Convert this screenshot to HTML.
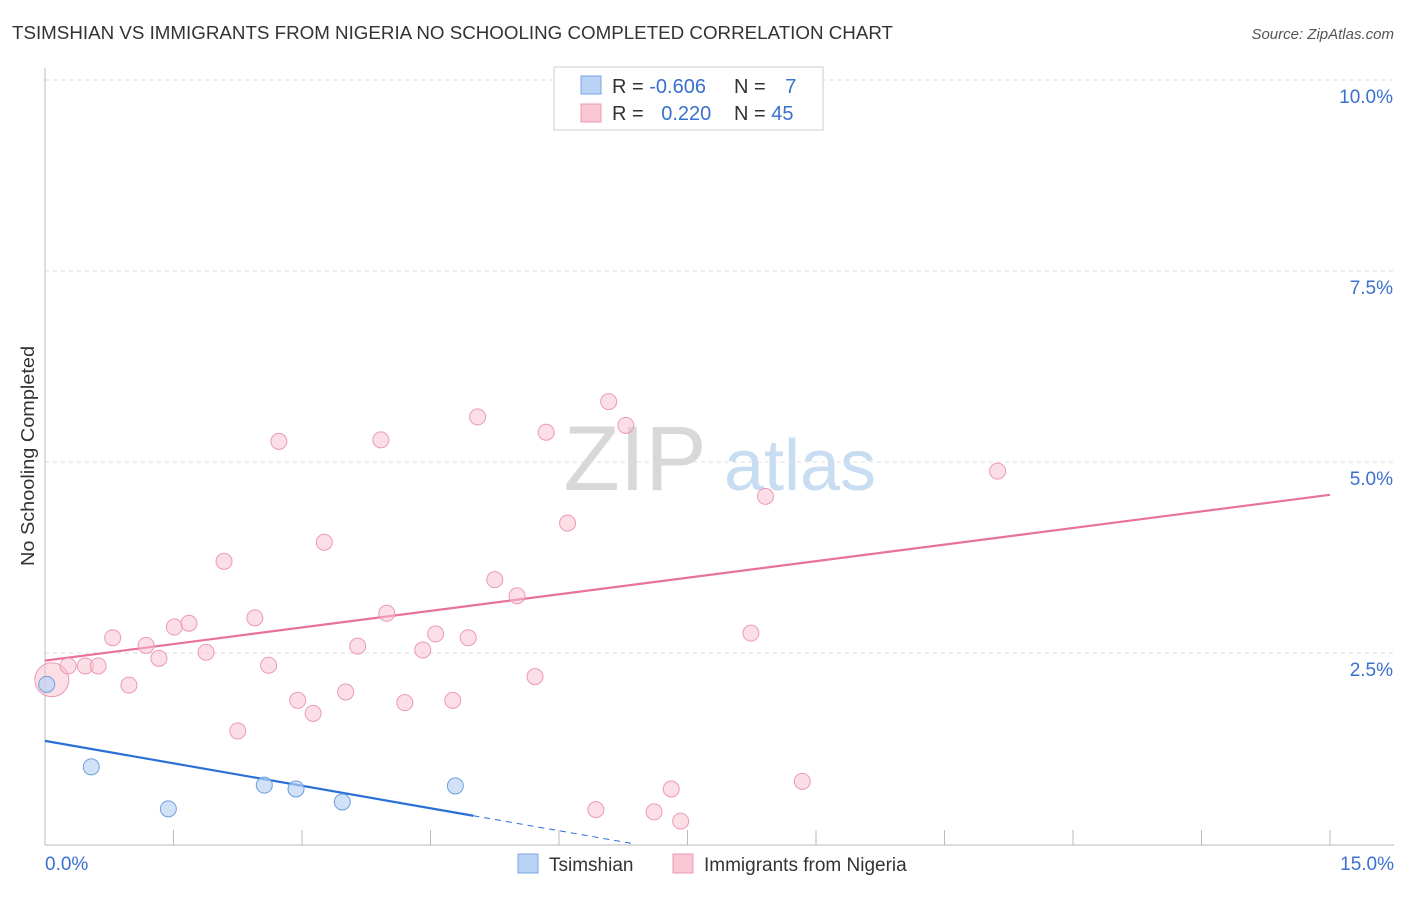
<!DOCTYPE html>
<html><head><meta charset="utf-8"><style>
body{margin:0;background:#fff;font-family:"Liberation Sans",sans-serif;}
svg text{font-family:"Liberation Sans",sans-serif;}
</style></head><body>
<svg id="chart" width="1406" height="892" xmlns="http://www.w3.org/2000/svg">
<text x="12" y="39" font-size="18" fill="#333" textLength="881" lengthAdjust="spacingAndGlyphs">TSIMSHIAN VS IMMIGRANTS FROM NIGERIA NO SCHOOLING COMPLETED CORRELATION CHART</text>
<text x="1394" y="39" font-size="15" fill="#555" font-style="italic" text-anchor="end">Source: ZipAtlas.com</text>
<text transform="translate(34,456) rotate(-90)" font-size="18" fill="#333" text-anchor="middle" textLength="220" lengthAdjust="spacingAndGlyphs">No Schooling Completed</text>
<g>
<text x="635" y="490" font-size="92" fill="#d8d8d8" font-family="Liberation Serif" text-anchor="middle">ZIP</text>
<text x="800" y="490" font-size="72" fill="#c8dcf2" text-anchor="middle">atlas</text>
</g>
<g id="grid"></g><g id="axes"></g><g id="trends"></g><g id="points"></g>
<g>
<rect x="554" y="67" width="269" height="63" fill="#fff" stroke="#ccc"/>
<rect x="581" y="76" width="20" height="18" fill="#b8d3f5" stroke="#7aa6e0"/>
<rect x="581" y="104" width="20" height="18" fill="#f9c6d4" stroke="#ee9ab2"/>
<text x="612" y="93" font-size="20" fill="#333">R = <tspan fill="#3a70d0">-0.606</tspan></text>
<text x="734" y="93" font-size="20" fill="#333">N = <tspan fill="#3a70d0" dx="14">7</tspan></text>
<text x="612" y="120" font-size="20" fill="#333">R = <tspan fill="#3a70d0" dx="12">0.220</tspan></text>
<text x="734" y="120" font-size="20" fill="#333">N = <tspan fill="#3a70d0">45</tspan></text>
</g>
<g>
<rect x="518" y="854" width="20" height="19" fill="#b8d3f5" stroke="#7aa6e0"/>
<text x="549" y="871" font-size="19" fill="#333">Tsimshian</text>
<rect x="673" y="854" width="20" height="19" fill="#f9c6d4" stroke="#ee9ab2"/>
<text x="704" y="871" font-size="19" fill="#333">Immigrants from Nigeria</text>
</g>
</svg>
<script>
const xTicks=[0,15];
const yTicks=[2.5,5.0,7.5,10.0];
const nigeriaX=[0.08,0.27,0.47,0.62,0.79,0.98,1.18,1.33,1.51,1.68,1.88,2.09,2.25,2.45,2.61,2.73,2.95,3.13,3.26,3.51,3.65,3.92,3.99,4.20,4.41,4.56,4.76,4.94,5.05,5.25,5.51,5.72,5.85,6.10,6.43,6.58,6.78,7.11,7.31,7.42,7.86,8.24,8.41,8.84,11.12];
const nigeriaY=[2.15,2.33,2.33,2.33,2.70,2.08,2.60,2.43,2.84,2.89,2.51,3.70,1.48,2.96,2.34,5.27,1.88,1.71,3.95,1.99,2.59,5.29,3.02,1.85,2.54,2.75,1.88,2.70,5.59,3.46,3.25,2.19,5.39,4.20,0.45,5.79,5.48,0.42,0.72,0.30,9.74,2.76,4.55,0.82,4.88];
const tsimX=[0.02,0.54,1.44,2.56,2.93,3.47,4.79];
const tsimY=[2.09,1.01,0.46,0.77,0.72,0.55,0.76];
const nigeriaTrend=[2.40,0.1447];
const tsimTrend=[1.35,-0.196];
const X0=45,X1=1330,Y0=844,PY=76.4;
const sx=v=>X0+v/15*(X1-X0), sy=v=>Y0-v*PY;
const NS="http://www.w3.org/2000/svg";
function mk(p,t,a){const e=document.createElementNS(NS,t);for(const k in a)e.setAttribute(k,a[k]);p.appendChild(e);return e;}
const grid=document.getElementById('grid'),axes=document.getElementById('axes');
mk(grid,'line',{x1:X0,x2:1394,y1:sy(10),y2:sy(10),stroke:'#ddd','stroke-dasharray':'4,4'});
yTicks.forEach(t=>{
 const l=mk(grid,'line',{x1:X0,x2:1394,y1:sy(t),y2:sy(t),stroke:'#ddd','stroke-dasharray':'4,4'});
 
 
 const tx=mk(axes,'text',{x:1393,y:sy(t)+23,'font-size':19,fill:'#3a70d0','text-anchor':'end'});
 tx.textContent=t.toFixed(1)+'%';
 
 
});
mk(axes,'line',{x1:X0,x2:X0,y1:68,y2:845,stroke:'#bbb'});
mk(axes,'line',{x1:X0,x2:1394,y1:845,y2:845,stroke:'#bbb'});
for(let i=0;i<=10;i++){mk(axes,'line',{x1:sx(i*1.5),x2:sx(i*1.5),y1:830,y2:845,stroke:'#bbb'});}
xTicks.forEach((t,i)=>{
 const tx=mk(axes,'text',{x:i==0?45:1394,y:870,'font-size':19,fill:'#3a70d0','text-anchor':i==0?'start':'end'});
 tx.textContent=t.toFixed(1)+'%';
 
 
});
const tr=document.getElementById('trends');
const pl=mk(tr,'line',{x1:sx(0),y1:sy(nigeriaTrend[0]),x2:sx(15),y2:sy(nigeriaTrend[0]+15*nigeriaTrend[1]),stroke:'#e8729a','stroke-width':2.2});


const bl=mk(tr,'line',{x1:sx(0),y1:sy(tsimTrend[0]),x2:sx(5),y2:sy(tsimTrend[0]+5*tsimTrend[1]),stroke:'#2a6fd6','stroke-width':2.2});


const xe=-tsimTrend[0]/tsimTrend[1];
const bd=mk(tr,'line',{x1:sx(5),y1:sy(tsimTrend[0]+5*tsimTrend[1]),x2:sx(xe),y2:sy(0),stroke:'#2a6fd6','stroke-width':1,'stroke-dasharray':'6,5'});


const pts=document.getElementById('points');
nigeriaX.forEach((x,i)=>{
 const c=mk(pts,'circle',{cx:sx(x),cy:sy(nigeriaY[i]),r:i==0?17:8,fill:'rgba(249,190,208,0.5)',stroke:'#ec9ab4','stroke-width':1});
 
 
});
tsimX.forEach((x,i)=>{
 const c=mk(pts,'circle',{cx:sx(x),cy:sy(tsimY[i]),r:8,fill:'rgba(184,211,245,0.65)',stroke:'#6e9edc','stroke-width':1});
 
 
});
</script>
</body></html>
